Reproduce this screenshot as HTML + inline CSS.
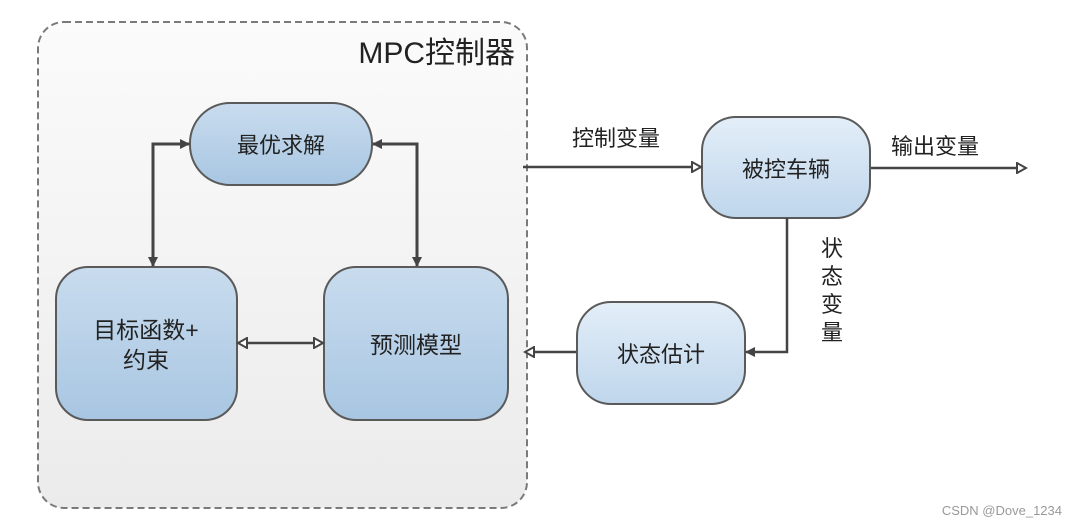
<!DOCTYPE html>
<html><head><meta charset="utf-8"><style>
html,body{margin:0;padding:0;background:#fff;}
svg{display:block;font-family:"Liberation Sans","Noto Sans CJK SC",sans-serif;}
</style></head><body>
<svg width="1076" height="526" viewBox="0 0 1076 526" xmlns="http://www.w3.org/2000/svg">
<defs>
<linearGradient id="bg" x1="0" y1="0" x2="0" y2="1"><stop offset="0" stop-color="#fbfbfb"/><stop offset="1" stop-color="#ebebeb"/></linearGradient>
<linearGradient id="b1" x1="0" y1="0" x2="0" y2="1"><stop offset="0" stop-color="#c9dcee"/><stop offset="1" stop-color="#a8c6e2"/></linearGradient>
<linearGradient id="b2" x1="0" y1="0" x2="0" y2="1"><stop offset="0" stop-color="#e3eef8"/><stop offset="1" stop-color="#bfd6ec"/></linearGradient>
<marker id="fa" markerWidth="10" markerHeight="10" refX="9" refY="5" orient="auto" markerUnits="userSpaceOnUse"><path d="M0,0 L10,5 L0,10 Z" fill="#444"/></marker>
<marker id="fas" markerWidth="10" markerHeight="10" refX="1" refY="5" orient="auto" markerUnits="userSpaceOnUse"><path d="M10,0 L0,5 L10,10 Z" fill="#444"/></marker>
<marker id="oa" markerWidth="12" markerHeight="12" refX="10" refY="6" orient="auto" markerUnits="userSpaceOnUse"><path d="M1,1 L10,6 L1,11 Z" fill="#fff" stroke="#444" stroke-width="2"/></marker>
<marker id="oas" markerWidth="12" markerHeight="12" refX="2" refY="6" orient="auto" markerUnits="userSpaceOnUse"><path d="M11,1 L2,6 L11,11 Z" fill="#fff" stroke="#444" stroke-width="2"/></marker>
</defs>
<rect x="38" y="22" width="489" height="486" rx="26" fill="url(#bg)" stroke="#7a7a7a" stroke-width="2" stroke-dasharray="7,4"/>
<text x="515" y="63" font-size="30" fill="#222" text-anchor="end">MPC控制器</text>

<rect x="190" y="103" width="182" height="82" rx="40" fill="url(#b1)" stroke="#5a5a5a" stroke-width="2"/>
<text x="281" y="153" font-size="22" fill="#222" text-anchor="middle">最优求解</text>

<rect x="56" y="267" width="181" height="153" rx="32" fill="url(#b1)" stroke="#5a5a5a" stroke-width="2"/>
<text x="146" y="338" font-size="23" fill="#222" text-anchor="middle">目标函数+</text>
<text x="146" y="368" font-size="23" fill="#222" text-anchor="middle">约束</text>

<rect x="324" y="267" width="184" height="153" rx="32" fill="url(#b1)" stroke="#5a5a5a" stroke-width="2"/>
<text x="416" y="353" font-size="23" fill="#222" text-anchor="middle">预测模型</text>

<rect x="702" y="117" width="168" height="101" rx="34" fill="url(#b2)" stroke="#5a5a5a" stroke-width="2"/>
<text x="786" y="177" font-size="22" fill="#222" text-anchor="middle">被控车辆</text>

<rect x="577" y="302" width="168" height="102" rx="34" fill="url(#b2)" stroke="#5a5a5a" stroke-width="2"/>
<text x="661" y="362" font-size="22" fill="#222" text-anchor="middle">状态估计</text>

<g stroke="#444" stroke-width="3" fill="none">
<path d="M153,266 L153,144 L189,144" marker-start="url(#fas)" marker-end="url(#fa)"/>
<path d="M417,266 L417,144 L373,144" marker-start="url(#fas)" marker-end="url(#fa)"/>
<path d="M238,343 L323,343" stroke-width="2.5" marker-start="url(#oas)" marker-end="url(#oa)"/>
<path d="M523,167 L701,167" stroke-width="2.5" marker-end="url(#oa)"/>
<path d="M871,168 L1026,168" stroke-width="2.5" marker-end="url(#oa)"/>
<path d="M787,218 L787,352 L746,352" stroke-width="2.5" marker-end="url(#fa)"/>
<path d="M576,352 L525,352" stroke-width="2.5" marker-end="url(#oa)"/>
</g>

<text x="572" y="146" font-size="22" fill="#222">控制变量</text>
<text x="891" y="154" font-size="22" fill="#222">输出变量</text>
<g font-size="22" fill="#222" text-anchor="middle">
<text x="832" y="256">状</text>
<text x="832" y="284">态</text>
<text x="832" y="312">变</text>
<text x="832" y="340">量</text>
</g>
<text x="1062" y="515" font-size="13" fill="#999" text-anchor="end">CSDN @Dove_1234</text>
</svg>
</body></html>
